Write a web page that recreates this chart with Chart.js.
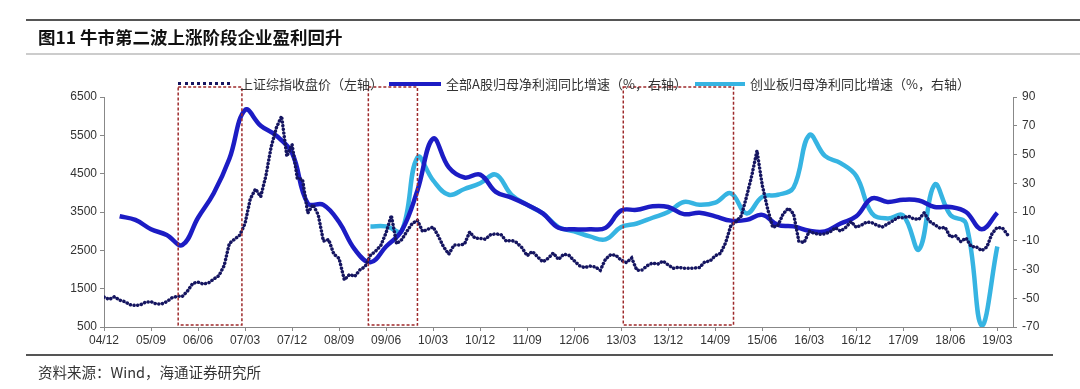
<!DOCTYPE html>
<html>
<head>
<meta charset="utf-8">
<script src="https://cdn.jsdelivr.net/npm/chart.js@4.4.1/dist/chart.umd.min.js"></script>
<style>
  body { margin: 0; background: #fff; }
  #wrap { position: relative; width: 1080px; height: 389px; overflow: hidden; font-family: "Noto Sans CJK SC", sans-serif; }
  #chart { position: absolute; left: 0; top: 0; }
  .rule { position: absolute; left: 26px; }
  .txt { position: absolute; white-space: nowrap; }
  .legend-txt { position: absolute; top: 75px; font-size: 13px; line-height: 18px; color: #333; white-space: nowrap; }
  .sample { position: absolute; }
</style>
</head>
<body>
<div id="wrap">
  <canvas id="chart" width="1080" height="389"></canvas>

  <div class="rule" style="top:19px;width:1054px;height:2px;background:#555;"></div>
  <div class="txt" style="left:38px;top:25px;font-size:17.5px;font-weight:700;line-height:24px;color:#111;">图11 牛市第二波上涨阶段企业盈利回升</div>
  <div class="rule" style="top:53px;width:1054px;height:2px;background:#ccc;"></div>

  <div class="sample" style="left:178px;top:82px;width:52px;border-top:3px dotted #151560;"></div>
  <div class="legend-txt" style="left:240px;">上证综指收盘价（左轴）</div>
  <div class="sample" style="left:389px;top:82px;width:52px;height:4px;background:#1c1cc4;"></div>
  <div class="legend-txt" style="left:446px;">全部A股归母净利润同比增速（%，右轴）</div>
  <div class="sample" style="left:695px;top:82px;width:50px;height:4px;background:#36b4e2;"></div>
  <div class="legend-txt" style="left:750px;">创业板归母净利同比增速（%，右轴）</div>

  <div class="rule" style="top:354px;width:1027px;height:2px;background:#555;"></div>
  <div class="txt" style="left:38px;top:362px;font-size:14.5px;line-height:20px;color:#333;">资料来源：Wind，海通证券研究所</div>
</div>

<script>
// x 轴按月计数，0 = 2004/12
const START_YEAR = 2004;
const START_MONTH = 12;
const LAST_MONTH = 174;

// x 轴刻度（每 9 个月一个）
const tickMonths = [0, 9, 18, 27, 36, 45, 54, 63, 72, 81, 90, 99, 108, 117, 126, 135, 144, 153, 162, 171];

// 上证综指月度收盘（左轴），从 04/12 开始
const indexClose = [
  1280,
  1220, 1290, 1200, 1160, 1080, 1060, 1080, 1150, 1160, 1100, 1100, 1160,
  1260, 1300, 1300, 1440, 1640, 1670, 1620, 1650, 1750, 1840, 2100, 2680,
  2790, 2900, 3200, 3840, 4100, 3900, 4450, 5200, 5700, 6000, 4950, 5260,
  4380, 4350, 3470, 3690, 3430, 2740, 2780, 2400, 2290, 1730, 1870, 1820,
  1990, 2080, 2370, 2480, 2630, 2960, 3410, 2670, 2780, 3000, 3200, 3280,
  2990, 3050, 3110, 2870, 2590, 2400, 2640, 2640, 2660, 2980, 2820, 2810,
  2790, 2910, 2930, 2910, 2740, 2760, 2700, 2570, 2360, 2470, 2330, 2200,
  2290, 2430, 2260, 2400, 2370, 2230, 2100, 2050, 2090, 2070, 1980, 2270,
  2390, 2370, 2240, 2180, 2300, 1980, 1990, 2100, 2170, 2140, 2220, 2120,
  2030, 2060, 2030, 2030, 2040, 2050, 2200, 2220, 2360, 2420, 2700, 3150,
  3250, 3400, 3900, 4450, 5100, 4200, 3600, 3100, 3150, 3450, 3600, 3450,
  2740, 2700, 3000, 2940, 2920, 2930, 2980, 3090, 3000, 3100, 3250, 3100,
  3160, 3240, 3220, 3150, 3110, 3190, 3270, 3360, 3350, 3390, 3320, 3310,
  3480, 3260, 3170, 3080, 3100, 2850, 2880, 2730, 2820, 2600, 2590, 2490,
  2590, 2940, 3100, 3080, 2900
];

// 全部A股归母净利润同比增速（%，右轴），季末月份
const allAMonths = [
  3, 6, 9, 12, 15, 18, 21, 24, 27, 30, 33, 36, 39, 42, 45, 48, 51, 54, 57,
  60, 63, 66, 69, 72, 75, 78, 81, 84, 87, 90, 93, 96, 99, 102, 105, 108, 111, 114,
  117, 120, 123, 126, 129, 132, 135, 138, 141, 144, 147, 150, 153, 156, 159, 162, 165, 168, 171
];
const allAProfit = [
  7, 4.5, -2, -6, -13, 6, 23, 47, 81, 70, 63, 51, 16, 15, 3, -16, -25, -14, -3,
  25, 61, 41, 34, 36, 24, 20, 15, 9, -1, -2, -2, -1, 11, 11.5, 14, 13.5, 8.5, 9.5,
  7, 4, 4.5, 8, 1, 0, -3, -3.5, 2, 7, 19.5, 17, 18.5, 18, 13.5, 13.5, 10, -2, 9.5
];

// 创业板归母净利同比增速（%，右轴）
const chinextMonths = [
  51, 54, 57, 60, 63, 66, 69, 72, 75, 78, 81, 84, 87, 90, 93, 96, 99, 102, 105, 108,
  111, 114, 117, 120, 123, 126, 129, 132, 135, 138, 141, 144, 147, 150, 153, 156, 159, 162, 165, 168, 171
];
const chinextProfit = [
  0, 0, -3, 48, 32, 22, 26, 30, 36, 22, 15, 9, -0.5, -3.5, -7, -9, -0.5, 2, 6, 10,
  17, 15, 16.5, 23, 9, 20.5, 22, 27, 63.5, 49, 44, 35, 9, 5.5, 7.5, -16, 29, 8, 2, -69, -14
];

// 红色虚线框（起止月份）
const boxRanges = [[14.2, 26.4], [50.6, 60], [99.4, 120.5]];

function monthLabel(m) {
  const t = START_YEAR * 12 + (START_MONTH - 1) + m;
  const y = Math.floor(t / 12) % 100;
  const mo = t % 12 + 1;
  return String(y).padStart(2, '0') + '/' + String(mo).padStart(2, '0');
}

const boxPlugin = {
  id: 'boxes',
  afterDatasetsDraw(chart) {
    const ctx = chart.ctx;
    const x = chart.scales.x;
    const area = chart.chartArea;
    ctx.save();
    ctx.strokeStyle = '#9e2a2b';
    ctx.lineWidth = 1.5;
    ctx.setLineDash([3, 2]);
    boxRanges.forEach(function (r) {
      const x0 = x.getPixelForValue(r[0]);
      const x1 = x.getPixelForValue(r[1]);
      ctx.strokeRect(x0, area.top - 10, x1 - x0, area.bottom - area.top + 8);
    });
    ctx.restore();
  }
};

const tickFont = { family: 'Liberation Sans, Arial, sans-serif', size: 12 };
const axisGrid = { display: true, drawOnChartArea: false, tickLength: 4, color: '#888' };
const axisBorder = { display: true, color: '#888', width: 1 };

new Chart(document.getElementById('chart'), {
  type: 'line',
  data: {
    datasets: [{
      label: '上证综指收盘价（左轴）',
      data: indexClose.map((v, i) => ({ x: i, y: v })),
      yAxisID: 'y',
      borderColor: '#151560',
      borderWidth: 3.5,
      borderDash: [0.1, 3.6],
      borderCapStyle: 'round',
      tension: 0,
      pointRadius: 0
    }, {
      label: '全部A股归母净利润同比增速（%，右轴）',
      data: allAMonths.map((m, i) => ({ x: m, y: allAProfit[i] })),
      yAxisID: 'y2',
      borderColor: '#1c1cc4',
      borderWidth: 4.5,
      tension: 0.4,
      pointRadius: 0
    }, {
      label: '创业板归母净利同比增速（%，右轴）',
      data: chinextMonths.map((m, i) => ({ x: m, y: chinextProfit[i] })),
      yAxisID: 'y2',
      borderColor: '#36b4e2',
      borderWidth: 4.5,
      tension: 0.4,
      pointRadius: 0
    }]
  },
  options: {
    responsive: false,
    animation: false,
    layout: { padding: { top: 97, left: 0, right: 0, bottom: 0 } },
    plugins: { legend: { display: false }, tooltip: { enabled: false } },
    scales: {
      x: {
        type: 'linear',
        min: 0,
        max: LAST_MONTH,
        afterBuildTicks: s => { s.ticks = tickMonths.map(v => ({ value: v })); },
        afterFit: s => { s.height = 62; },
        ticks: { autoSkip: false, maxRotation: 0, color: '#333', font: tickFont, padding: 2,
          callback: v => monthLabel(v) },
        grid: axisGrid,
        border: axisBorder
      },
      y: {
        position: 'left',
        min: 500,
        max: 6500,
        afterFit: s => { s.width = 104; },
        ticks: { stepSize: 1000, color: '#333', font: tickFont, padding: 3, callback: v => String(v) },
        grid: axisGrid,
        border: axisBorder
      },
      y2: {
        position: 'right',
        min: -70,
        max: 90,
        afterFit: s => { s.width = 67; },
        ticks: { stepSize: 20, color: '#333', font: tickFont, padding: 5, callback: v => String(v) },
        grid: axisGrid,
        border: axisBorder
      }
    }
  },
  plugins: [boxPlugin]
});
</script>
</body>
</html>
